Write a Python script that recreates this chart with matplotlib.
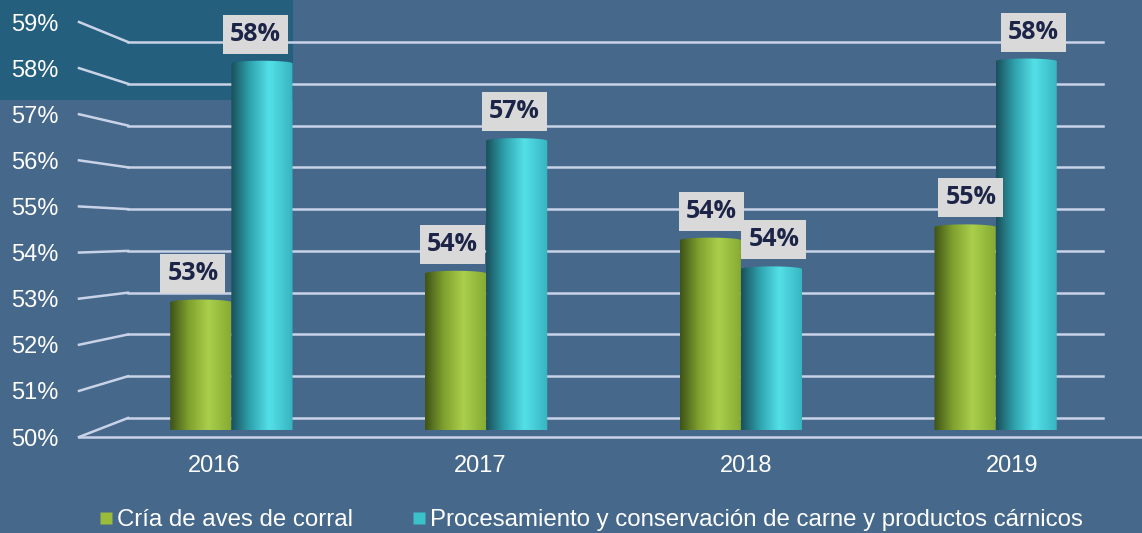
import matplotlib
matplotlib.use('Agg')
import matplotlib.pyplot as plt
import numpy as np
from matplotlib.path import Path
from matplotlib.patches import PathPatch, Rectangle
from matplotlib.lines import Line2D
from matplotlib.colors import LinearSegmentedColormap

years = ["2016", "2017", "2018", "2019"]
series_names = ["Cría de aves de corral",
                "Procesamiento y conservación de carne y productos cárnicos"]
aves = [52.95, 53.6, 54.35, 54.65]
carne = [58.35, 56.6, 53.7, 58.4]
y_ticks = list(range(50, 60))

W, H = 1142, 533
bg = '#46688A'
grid_col = '#C9D3E8'
label_font = 'Liberation Sans'

fig = plt.figure(figsize=(W / 100, H / 100), dpi=100, facecolor=bg)


def px_rect(x0, y0, x1, y1):
    return [x0 / W, 1 - y1 / H, (x1 - x0) / W, (y1 - y0) / H]


# darker patch in the top-left corner (behind everything)
fig.patches.append(Rectangle((0, 1 - 100 / H), 293 / W, 100 / H,
                             transform=fig.transFigure, fc='#245F7E',
                             ec='none', zorder=-10))

ax_front = fig.add_axes(px_rect(79, 22, 1142, 437))
ax_back = fig.add_axes(px_rect(128, 42, 1103, 418))
ax_bars = fig.add_axes(px_rect(104, 32, 1123, 430))

for ax in (ax_front, ax_back, ax_bars):
    ax.set_facecolor('none')
    for s in ax.spines.values():
        s.set_visible(False)
    ax.set_ylim(50, 59)
    ax.set_xlim(-0.5, 3.5)

# back wall grid
for t in y_ticks:
    ax_back.axhline(t, color=grid_col, lw=1.8, clip_on=False)
ax_back.set_xticks([])
ax_back.set_yticks([])

# front plane: tick labels + floor edge
ax_front.axhline(50, color=grid_col, lw=1.8, clip_on=False)
ax_front.set_yticks(y_ticks)
ax_front.set_yticklabels([f"{t}%" for t in y_ticks])
ax_front.set_xticks(np.arange(len(years)) + 0.01)
ax_front.set_xticklabels(years)
ax_front.tick_params(length=0, colors='white', labelsize=17)
ax_front.tick_params(axis='y', pad=15)
ax_front.tick_params(axis='x', pad=13)
for lab in ax_front.get_xticklabels() + ax_front.get_yticklabels():
    lab.set_fontfamily(label_font)

# connectors from front plane to back wall
inv = fig.transFigure.inverted()
for t in y_ticks:
    p0 = inv.transform(ax_front.transData.transform((-0.5, t)))
    p1 = inv.transform(ax_back.transData.transform((-0.5, t)))
    fig.lines.append(Line2D([p0[0], p1[0]], [p0[1], p1[1]],
                            transform=fig.transFigure, color=grid_col, lw=1.8))

# cylinders
green_cm = LinearSegmentedColormap.from_list(
    'g', [(0, '#3E5217'), (0.3, '#7FA02E'), (0.62, '#AACF4C'), (1, '#86A931')])
cyan_cm = LinearSegmentedColormap.from_list(
    'c', [(0, '#1A4F5A'), (0.3, '#2EA2AD'), (0.62, '#54E0E8'), (1, '#36B4C0')])

x = np.arange(len(years))
bw = 0.24
grad = np.linspace(0, 1, 256).reshape(1, -1)


def cylinder_path(x0, x1, top, bot_dy=0.09, top_dy=0.06):
    cx, rx = (x0 + x1) / 2, (x1 - x0) / 2
    th = np.linspace(np.pi, 2 * np.pi, 40)
    bottom = np.column_stack([cx + rx * np.cos(th), 50 + bot_dy * np.sin(th)])
    th2 = np.linspace(0, np.pi, 40)
    upper = np.column_stack([cx + rx * np.cos(th2), top - top_dy + top_dy * np.sin(th2)])
    verts = np.vstack([[[x0, top - top_dy]], bottom, upper, [[x0, top - top_dy]]])
    return Path(verts, closed=True)


for vals, off, cm in ((aves, -bw / 2, green_cm), (carne, bw / 2, cyan_cm)):
    bars = ax_bars.bar(x + off, np.array(vals) - 50, bottom=50, width=bw,
                       color='none', edgecolor='none')
    for b, v in zip(bars, vals):
        x0, x1 = b.get_x(), b.get_x() + b.get_width()
        xc = (x0 + x1) / 2
        clip = PathPatch(cylinder_path(x0, x1, v), fc='none', ec='none',
                         transform=ax_bars.transData)
        ax_bars.add_patch(clip)
        im = ax_bars.imshow(grad, cmap=cm, extent=[x0, x1, 49.8, v + 0.1],
                            aspect='auto', interpolation='bicubic', zorder=2)
        im.set_clip_path(clip)
        # labels drift outward a little (perspective)
        px_c = ax_bars.transData.transform((xc, v))[0]
        dx = 0.018 * (px_c - 640)
        ax_bars.annotate(f"{v:.0f}%", xy=(xc, v),
                         xytext=(dx, 14), textcoords='offset pixels',
                         ha='center', va='bottom', fontsize=18,
                         fontweight='bold', family='Open Sans', color='#1C2547',
                         bbox=dict(boxstyle='square,pad=0.28', fc='#D9D9D9',
                                   ec='none'),
                         zorder=5, annotation_clip=False)

ax_bars.set_xlim(-0.5, 3.5)
ax_bars.set_ylim(50, 59)
ax_bars.set_xticks([])
ax_bars.set_yticks([])

handles = [Line2D([], [], ls='none', marker='s', markersize=9,
                  markerfacecolor='#9BBB3B', markeredgecolor='none'),
           Line2D([], [], ls='none', marker='s', markersize=9,
                  markerfacecolor='#3CC0CC', markeredgecolor='none')]
leg = fig.legend(handles, series_names, loc='center left',
                 bbox_to_anchor=(99 / W, 13 / H), ncol=2, frameon=False,
                 handlelength=0.6, handletextpad=0.15, columnspacing=2.45,
                 borderpad=0, borderaxespad=0,
                 prop={'family': label_font, 'size': 17.3})
for txt in leg.get_texts():
    txt.set_color('white')

fig.savefig('out.png', dpi=100, facecolor=bg)
